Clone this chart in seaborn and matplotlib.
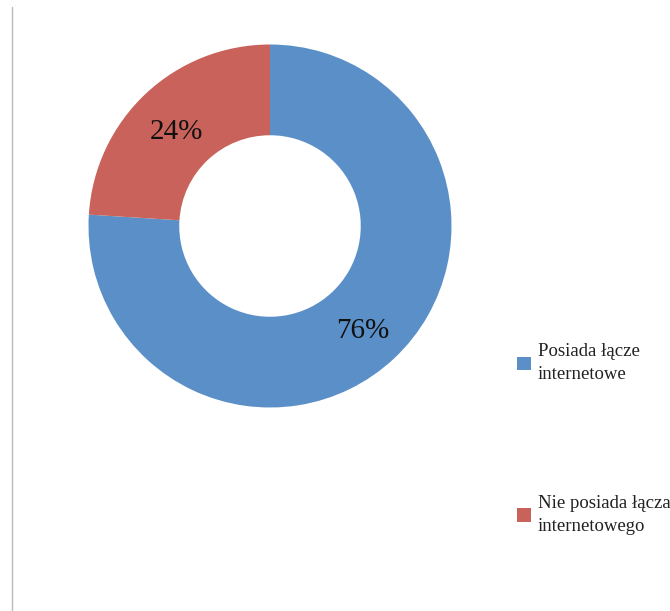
import matplotlib
matplotlib.use("Agg")
import matplotlib.pyplot as plt
from matplotlib.lines import Line2D
from matplotlib.patches import Patch
import seaborn as sns

categories = ["Posiada łącze\ninternetowe", "Nie posiada łącza\ninternetowego"]
shares = [76, 24]
colors = ["#5b8fc7", "#c9625b"]

sns.set_theme(style="white")
plt.rcParams["font.family"] = ["Liberation Serif", "DejaVu Serif"]

W, H = 670, 611
fig = plt.figure(figsize=(W / 100, H / 100), dpi=100)
fig.patch.set_facecolor("white")

# donut axes: center (270, 226) px, radius 181.5 px
cx, cy, r = 270, 226, 181.5
ax = fig.add_axes([(cx - r) / W, (H - cy - r) / H, 2 * r / W, 2 * r / H])
wedges, texts, autotexts = ax.pie(
    shares,
    colors=colors,
    startangle=90,
    counterclock=False,
    radius=1,
    wedgeprops=dict(width=0.5, linewidth=0),
    autopct=lambda p: f"{p:.0f}%",
    pctdistance=0.75,
    textprops=dict(fontsize=21, color="#111111"),
)
# nudge percentage labels slightly downward
for t in autotexts:
    x, y = t.get_position()
    t.set_position((x, y - 0.03))
ax.set_xlim(-1, 1)
ax.set_ylim(-1, 1)
ax.set_aspect("equal")
ax.axis("off")

# legend entries on the right
handles = [Patch(facecolor=c, edgecolor="none") for c in colors]
leg = fig.legend(
    handles, categories,
    loc="upper left",
    bbox_to_anchor=(509 / W, 1 - 336 / H),
    borderaxespad=0,
    frameon=False,
    fontsize=13.5,
    handlelength=0.75,
    handleheight=0.75,
    handletextpad=0.4,
    labelspacing=5.95,
)
for t in leg.get_texts():
    t.set_color("#222222")
    t.set_linespacing(1.45)

# thin frame line on the left
fig.add_artist(Line2D([12 / W, 12 / W], [0, 1 - 7 / H], color="#bbbbbb", linewidth=1))

fig.savefig("out.png", dpi=100, facecolor="white")
